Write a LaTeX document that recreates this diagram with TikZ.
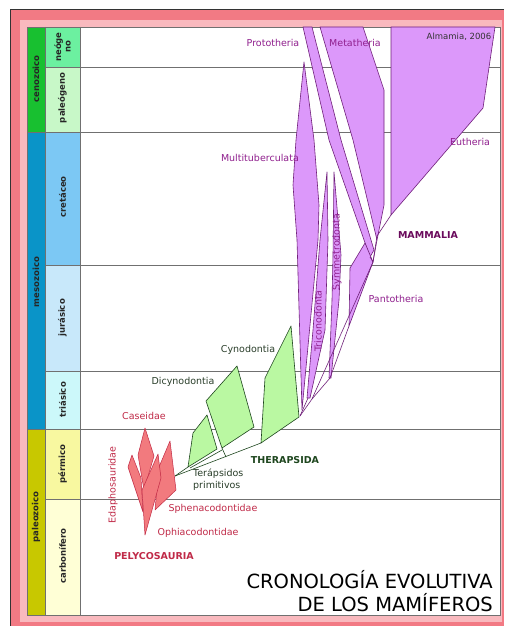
\documentclass[tikz,border=0pt]{standalone}
\usepackage{fontspec}
\setmainfont{DejaVu Sans}
\definecolor{pinkA}{HTML}{F27A84}
\definecolor{pinkB}{HTML}{F9B9BE}
\definecolor{cenoE}{HTML}{18C030}
\definecolor{mesoE}{HTML}{0A94C8}
\definecolor{paleoE}{HTML}{C8C800}
\definecolor{neoP}{HTML}{6CF0A0}
\definecolor{paleP}{HTML}{C8F8C8}
\definecolor{creP}{HTML}{7CC8F4}
\definecolor{jurP}{HTML}{C8E8FA}
\definecolor{triP}{HTML}{CCF8FA}
\definecolor{perP}{HTML}{F8F8A0}
\definecolor{carP}{HTML}{FFFFD6}
\definecolor{gridc}{HTML}{707070}
\definecolor{mfill}{HTML}{DC98FA}
\definecolor{mline}{HTML}{70207A}
\definecolor{mtext}{HTML}{90208E}
\definecolor{mbold}{HTML}{6A0A5C}
\definecolor{gfill}{HTML}{BAF8A2}
\definecolor{gline}{HTML}{1E461E}
\definecolor{gtext}{HTML}{2A3E2A}
\definecolor{rfill}{HTML}{F27A7E}
\definecolor{rline}{HTML}{C22A44}
\definecolor{rtext}{HTML}{C02A48}
\tikzset{
  mam/.style={fill=mfill,draw=mline,line width=0.6pt,line join=round},
  mln/.style={draw=mline,line width=0.6pt},
  ther/.style={fill=gfill,draw=gline,line width=0.6pt,line join=round},
  gln/.style={draw=gline,line width=0.6pt},
  pel/.style={fill=rfill,draw=rline,line width=0.5pt,line join=round},
  per/.style={rotate=90,font=\fontsize{8.5}{8.5}\selectfont\bfseries,text=black!85,inner sep=0pt,align=center},
  era/.style={rotate=90,font=\fontsize{8.5}{9}\selectfont\bfseries,text=black!85,inner sep=0pt},
  mlab/.style={font=\fontsize{9.5}{10}\selectfont,text=mtext,inner sep=0pt},
  glab/.style={font=\fontsize{9.5}{12}\selectfont,text=gtext,inner sep=0pt},
  rlab/.style={font=\fontsize{9.5}{10}\selectfont,text=rtext,inner sep=0pt},
  boldlab/.style={font=\fontsize{9.5}{10}\selectfont\bfseries,inner sep=0pt},
  titl/.style={font=\fontsize{19.5}{22}\selectfont,anchor=east,inner sep=0pt},
}
\begin{document}
\begin{tikzpicture}[x=1pt,y=-1pt]
\useasboundingbox (0,0) rectangle (504,626);
\fill[white] (0,0) rectangle (504,626);
% frame
\fill[pinkA] (10,9) rectangle (504,626);
\fill[pinkB] (20,20) rectangle (502,622);
\draw[black!80,line width=0.8pt] (504,9) -- (10,9) -- (10,626);
\fill[white] (27,27) rectangle (500,615);
% era column
\fill[cenoE] (27,27) rectangle (45,132);
\fill[mesoE] (27,132) rectangle (45,429);
\fill[paleoE] (27,429) rectangle (45,615);
% period column
\fill[neoP] (45,27) rectangle (80,67);
\fill[paleP] (45,67) rectangle (80,132);
\fill[creP] (45,132) rectangle (80,265);
\fill[jurP] (45,265) rectangle (80,371);
\fill[triP] (45,371) rectangle (80,429);
\fill[perP] (45,429) rectangle (80,499);
\fill[carP] (45,499) rectangle (80,615);
% grid
\draw[gridc,line width=0.7pt] (27,27) rectangle (500,615);
\draw[gridc,line width=0.7pt] (45,27) -- (45,615) (80,27) -- (80,615);
\draw[gridc,line width=0.7pt] (27,132) -- (45,132) (27,429) -- (45,429);
\foreach \yy in {67,132,265,371,429,499} \draw[gridc,line width=0.7pt] (45,\yy) -- (500,\yy);
% labels of columns
\node[era] (ceno) at (36,79) {cenozoico};
\node[era] (meso) at (36,282) {mesozoico};
\node[era] (paleo) at (36,517) {paleozoico};
\node[per] (neo) at (62.5,47) {neóge\\[1pt]no};
\node[per] (palg) at (62.5,98) {paleógeno};
\node[per] (cre) at (62.5,197) {cretáceo};
\node[per] (jur) at (62.5,318) {jurásico};
\node[per] (tri) at (62.5,400) {triásico};
\node[per] (perm) at (62.5,464) {pérmico};
\node[per] (carb) at (62.5,556) {carbonífero};
% ---------- mammals ----------
\draw[mam] (391,27) -- (495,27) -- (483,108) -- (391,215) -- cycle;
\draw[mam] (320,27) -- (363,27) -- (384,90) -- (384,205) -- (377,240) -- (353,140) -- cycle;
\draw[mam] (303,27) -- (312,27) -- (341,140) -- (374,250) -- (370,257) -- (329,140) -- cycle;
\draw[mam] (304,62) -- (314,140) -- (319,205) -- (318,240) -- (302,410) -- (297,240) -- (293,185) -- (296,140) -- cycle;
\draw[mam] (327,172) -- (328,240) -- (325,330) -- (310,398) -- (307,398) -- (313,330) -- (320,240) -- cycle;
\draw[mam] (334,172) -- (341,255) -- (339,300) -- (331,378) -- (329,378) -- (332,300) -- (333,255) -- cycle;
\draw[mam] (373,262) -- (365,243) -- (350,268) -- (349,326) -- cycle;
\coordinate (J0) at (300,416);
\draw[mln] (J0) -- (312,399) -- (373,262) -- (377,236) -- (391,215);
\draw[mln] (J0) -- (308,398);
\draw[mln] (349,326) -- (330,378) -- (312,399);
\draw[mln] (370,257) -- (373,262) (377,240) -- (373,262);
% ---------- therapsids ----------
\draw[ther] (291,326) -- (299,417) -- (261,443) -- (265,378) -- cycle;
\draw[ther] (237,366) -- (254,427) -- (222,448) -- (206,401) -- cycle;
\draw[ther] (207,415) -- (217,449) -- (188,467) -- (193,433) -- cycle;
\coordinate (B0) at (175,476);
\draw[gln] (B0) -- (261,443);
\draw[gln] (B0) -- (188,467);
\draw[gln] (190,468) -- (222,450);
\draw[gln] (222,448) -- (226,457);
% ---------- pelycosaurs ----------
\draw[pel] (132,455) -- (141,478) -- (143,512) -- (128,467) -- cycle;
\draw[pel] (145,428) -- (154,456) -- (144,490) -- (138,455) -- cycle;
\draw[pel] (170,441) -- (176,490) -- (155,510) -- (159,467) -- cycle;
\draw[pel] (158,454) -- (161,478) -- (145,535) -- (142,490) -- cycle;
% ---------- texts ----------
\node[font=\fontsize{8.5}{9}\selectfont,text=black!80,inner sep=0pt] (alm) at (459,37) {Almamia, 2006};
\node[mlab] (proto) at (273,43) {Prototheria};
\node[mlab] (meta) at (355,43) {Metatheria};
\node[mlab,anchor=east] (multi) at (299,158) {Multituberculata};
\node[mlab] (euth) at (470,142) {Eutheria};
\node[boldlab,text=mbold] (mamm) at (428,235) {MAMMALIA};
\node[mlab] (panto) at (396,299) {Pantotheria};
\node[mlab,rotate=90] (trico) at (318,321) {Triconodonta};
\node[mlab,rotate=90] (symm) at (337,252) {Symmetrodonta};
\node[glab] (cyno) at (248,350) {Cynodontia};
\node[glab] (dicy) at (183,382) {Dicynodontia};
\node[boldlab,text=gline] (thera) at (285,460) {THERAPSIDA};
\node[glab,align=left,anchor=north west] (terap) at (193,469) {Terápsidos\\primitivos};
\node[rlab] (case) at (144,416) {Caseidae};
\node[rlab,rotate=90] (edaph) at (113,485) {Edaphosauridae};
\node[rlab] (sphen) at (213,509) {Sphenacodontidae};
\node[rlab] (ophia) at (198,533) {Ophiacodontidae};
\node[boldlab,text=rtext] (pely) at (154,556) {PELYCOSAURIA};
\node[titl] (tit1) at (493,580) {CRONOLOGÍA EVOLUTIVA};
\node[titl] (tit2) at (493,603) {DE LOS MAMÍFEROS};
\end{tikzpicture}
\end{document}
